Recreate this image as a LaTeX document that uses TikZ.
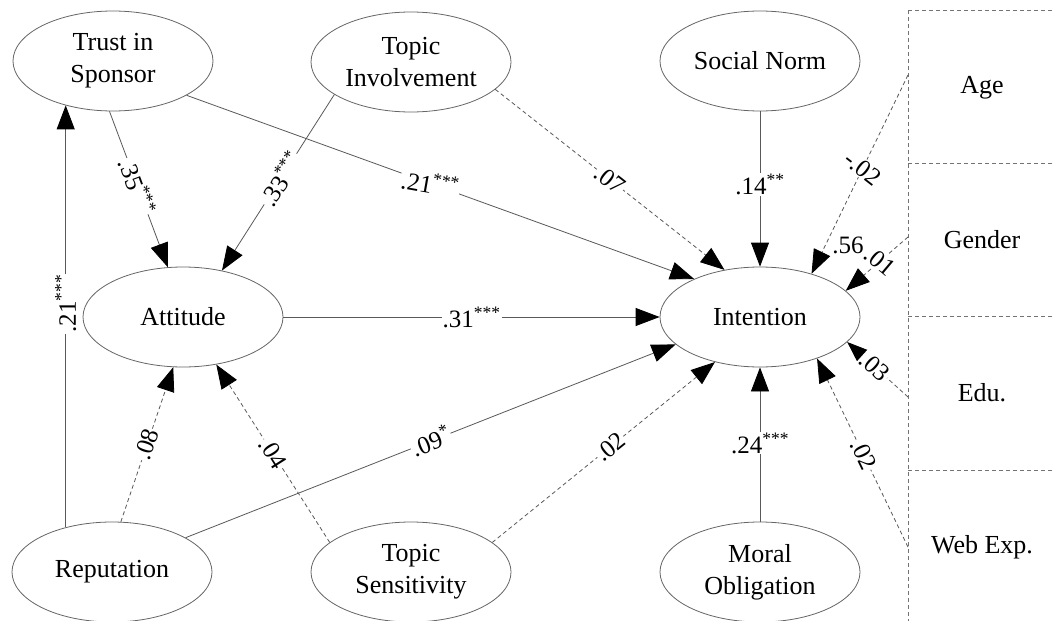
\documentclass[tikz,border=0pt]{standalone}
\usepackage{fontspec}
\setmainfont{Liberation Serif}
\usetikzlibrary{shapes.geometric,arrows.meta}
\begin{document}
\begin{tikzpicture}[x=1pt,y=-1pt,
  lat/.style={ellipse, draw=black!60, line width=0.8pt, minimum width=200pt, minimum height=100pt, inner sep=0pt, align=center, font=\fontsize{26}{32}\selectfont},
  obs/.style={font=\fontsize{26}{30}\selectfont},
  sempath/.style={draw=black!65, line width=0.8pt, -{Triangle[length=24pt,width=18pt,color=black,fill=black]}},
  nspath/.style={sempath, dash pattern=on 4pt off 3pt},
  lab/.style={fill=white, inner sep=1pt, font=\fontsize{25}{28}\selectfont},
  boxline/.style={draw=black!55, line width=0.8pt, dash pattern=on 4pt off 3pt}]
\useasboundingbox (0,0) rectangle (1052,621);
\fill[white] (0,0) rectangle (1052,621);

% latent variables
\node[lat] (ts)  at (113,61)  {Trust in\\Sponsor};
\node[lat] (ti)  at (411,62)  {Topic\\Involvement};
\node[lat] (sn)  at (760,61)  {Social Norm};
\node[lat] (at)  at (183,317) {Attitude};
\node[lat] (in)  at (760,317) {Intention};
\node[lat] (re)  at (112,572) {Reputation};
\node[lat] (tse) at (411,572) {Topic\\Sensitivity};
\node[lat] (mo)  at (760,572) {Moral\\Obligation};

% control variables panel
\draw[boxline] (908,10) -- (908,621);
\draw[boxline] (908,10) -- (1052,10);
\draw[boxline] (908,163) -- (1052,163);
\draw[boxline] (908,316) -- (1052,316);
\draw[boxline] (908,470) -- (1052,470);
\node[obs] (age) at (982,88)  {Age};
\node[obs] (gen) at (982,240) {Gender};
\node[obs] (edu) at (982,393) {Edu.};
\node[obs] (web) at (982,547) {Web Exp.};
\coordinate (agep) at (908,75);
\coordinate (genp) at (908,237);
\coordinate (edup) at (908,397);
\coordinate (webp) at (908,547);

\node[font=\fontsize{25}{28}\selectfont, inner sep=0pt] (r2) at (848,245) {.56};

% paths
\draw[sempath] (re.136) -- (re.136 |- ts.223) node[lab,sloped,pos=0.53] {.21\textsuperscript{***}};
\draw[sempath] (ts.266) -- (at.107) node[lab,sloped,pos=0.48] {.35\textsuperscript{***}};
\draw[sempath] (ti.203) -- (at.50) node[lab,sloped,pos=0.48] {.33\textsuperscript{***}};
\draw[sempath] (ts.335) -- (in.150) node[lab,rotate=-10,pos=0.48] {.21\textsuperscript{***}};
\draw[nspath] (ti.342) -- (in.127) node[lab,sloped,pos=0.5] {.07};
\draw[sempath] (sn) -- (in) node[lab,pos=0.47] {.14\textsuperscript{**}};
\draw[nspath] (agep) -- (in.40) node[lab,rotate=-38,pos=0.47] {-.02};
\draw[nspath] (genp) -- (in.17) node[lab,rotate=-40,pos=0.45] {.01};
\draw[nspath] (edup) -- (in.344) node[lab,sloped,pos=0.55] {.03};
\draw[nspath] (webp) -- (in.324) node[lab,sloped,pos=0.49] {.02};
\draw[sempath] (mo) -- (in) node[lab,pos=0.51] {.24\textsuperscript{***}};
\draw[sempath] (at) -- (in) node[lab,pos=0.5] {.31\textsuperscript{***}};
\draw[nspath] (re.80) -- (at.259) node[lab,sloped,pos=0.5] {.08};
\draw[nspath] (tse.160) -- (at.305) node[lab,sloped,pos=0.5] {.04};
\draw[sempath] (re.25) -- (in.198) node[lab,sloped,pos=0.5] {.09\textsuperscript{*}};
\draw[nspath] (tse.20) -- (in.225) node[lab,sloped,pos=0.53] {.02};
\end{tikzpicture}
\end{document}
